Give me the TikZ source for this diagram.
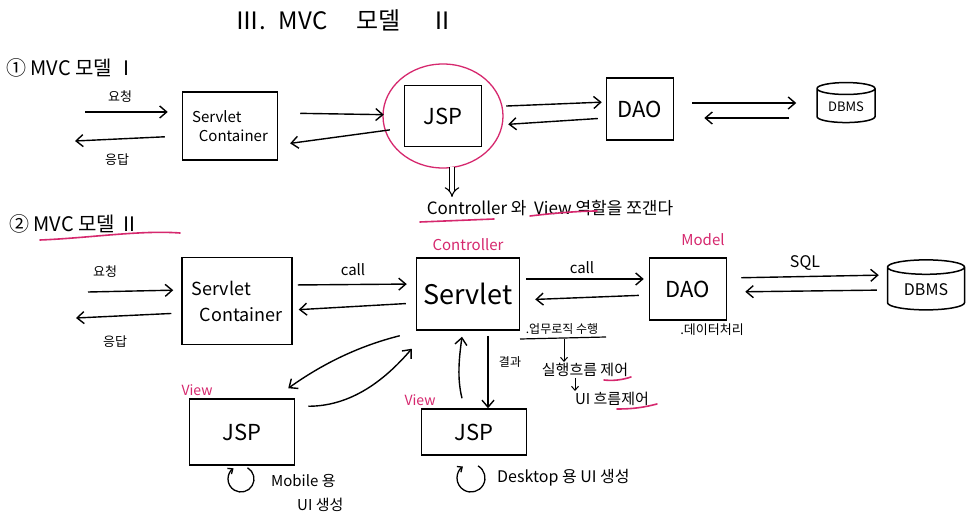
\documentclass[tikz,border=0pt]{standalone}
\usepackage{fontspec}
\setmainfont{Noto Sans CJK KR}
\usetikzlibrary{arrows.meta,shapes.geometric,calc}
\definecolor{hlpink}{RGB}{214,40,110}
\newcommand{\fs}[1]{\fontsize{#1}{#1}\selectfont}
\begin{document}
\begin{tikzpicture}[x=1pt,y=-1pt,
  box/.style={draw, line width=1.5pt, inner sep=2pt},
  db/.style={draw, line width=1.5pt, cylinder, shape border rotate=90, aspect=0.3, inner sep=2pt},
  arr/.style={line width=1.4pt, -{Straight Barb[length=7pt,width=12pt]}},
  txt/.style={inner sep=1pt},
  pk/.style={inner sep=1pt, text=hlpink},
  pline/.style={draw=hlpink, line width=1.6pt, line cap=round}]
\useasboundingbox[fill=white] (0,0) rectangle (979,521);

% Title and headers
\node[txt, font=\fs{24}] (title) at (345,20) {Ⅲ. \ MVC \quad 모델 \quad Ⅱ};
\node[txt, font=\fs{20}, anchor=west] (h1) at (5,68) {① MVC 모델 Ⅰ};
\node[txt, font=\fs{20}, anchor=west] (h2) at (8,224) {② MVC 모델 Ⅱ};
\draw[pline] (40,240) .. controls (90,238) and (140,230) .. (180,233);

% ---------------- Model 1 ----------------
\node[box, minimum width=95pt, minimum height=68pt, font=\fs{15}, align=left] (sc1) at (230,126) {Servlet\\[4pt]\ \ Container};
\node[box, minimum width=77pt, minimum height=61pt, font=\fs{22}] (jsp1) at (443,116) {JSP};
\node[box, minimum width=67pt, minimum height=62pt, font=\fs{22}] (dao1) at (640,109) {DAO};
\node[db, minimum width=58pt, minimum height=40pt, font=\fs{13}] (db1) at (846,107) {DBMS};
\draw[draw=hlpink, line width=1.3pt] (jsp1.center) ellipse [x radius=60, y radius=52];

\coordinate (in1) at (85,112);
\coordinate (out1) at (75,141);
\node[txt, font=\fs{13}] (req1) at (120,97) {요청};
\node[txt, font=\fs{13}] (res1) at (117,160) {응답};
\draw[arr, shorten >=14pt] (in1) -- (sc1.west |- in1);
\draw[arr, shorten <=17pt] (sc1.west |- 0,136) -- (out1);
\draw[arr, shorten <=22pt, shorten >=20pt] (sc1.east |- 0,113) -- (jsp1.west |- 0,115);
\draw[arr, shorten <=14pt, shorten >=12pt] (jsp1.west |- 0,128) -- (sc1.east |- 0,145);
\draw[arr, shorten <=24pt, shorten >=4pt] (jsp1.east |- 0,107) -- (dao1.west |- 0,102);
\draw[arr, shorten <=8pt, shorten >=26pt] (dao1.west |- 0,118) -- (jsp1.east |- 0,126);
\draw[arr, shorten <=18pt, shorten >=20pt] (dao1.east |- 0,103) -- (db1.west |- 0,103);
\draw[arr, shorten <=27pt, shorten >=30pt] (db1.west |- 0,118) -- (dao1.east |- 0,118);

% double arrow down
\coordinate (dd) at (452,197);
\draw[line width=1.1pt, double, double distance=4pt, -{Implies}] (jsp1.south -| dd) ++(0,20) -- (dd);
\node[txt, font=\fs{17}] (split) at (550,208) {Controller 와 \ View 역할을 쪼갠다};
\draw[pline] (420,222) -- (494,219);
\draw[pline] (530,216) .. controls (555,213) and (580,211) .. (597,211);

% ---------------- Model 2 ----------------
\node[box, minimum width=110pt, minimum height=87pt, font=\fs{18}, align=left] (sc2) at (237,301) {Servlet\\[8pt]\ \ Container};
\node[box, minimum width=103pt, minimum height=72pt, font=\fs{27}] (sv2) at (468,294) {Servlet};
\node[box, minimum width=77pt, minimum height=62pt, font=\fs{22}] (dao2) at (688,289) {DAO};
\node[db, minimum width=77pt, minimum height=50pt, font=\fs{16}] (db2) at (926,290) {DBMS};
\node[box, minimum width=105pt, minimum height=66pt, font=\fs{22}] (jspL) at (242,432) {JSP};
\node[box, minimum width=105pt, minimum height=46pt, font=\fs{22}] (jspR) at (474,432) {JSP};

\node[pk, font=\fs{15}] (lctl) at (468,245) {Controller};
\node[pk, font=\fs{15}] (lmod) at (703,240) {Model};
\node[pk, font=\fs{14}] (lv1) at (197,390) {View};
\node[pk, font=\fs{14}] (lv2) at (420,400) {View};

\coordinate (in2) at (88,292);
\coordinate (out2) at (76,318);
\node[txt, font=\fs{13}] (req2) at (105,272) {요청};
\node[txt, font=\fs{13}] (res2) at (115,342) {응답};
\draw[arr, shorten >=8pt] (in2) -- (sc2.west |- 0,290);
\draw[arr, shorten <=10pt] (sc2.west |- 0,313) -- (out2);

\node[txt, font=\fs{15}] (call1) at (353,270) {call};
\node[txt, font=\fs{15}] (call2) at (582,268) {call};
\node[txt, font=\fs{16}] (sql) at (805,263) {SQL};
\draw[arr, shorten <=5pt, shorten >=9pt] (sc2.east |- 0,285) -- (sv2.west |- 0,284);
\draw[arr, shorten <=10pt, shorten >=6pt] (sv2.west |- 0,303) -- (sc2.east |- 0,310);
\draw[arr, shorten <=6pt, shorten >=5pt] (sv2.east |- 0,279) -- (dao2.west |- 0,279);
\draw[arr, shorten <=10pt, shorten >=15pt] (dao2.west |- 0,295) -- (sv2.east |- 0,300);
\draw[arr, shorten <=14pt, shorten >=8pt] (dao2.east |- 0,278) -- (db2.west |- 0,275);
\draw[arr, shorten <=10pt, shorten >=18pt] (db2.west |- 0,290) -- (dao2.east |- 0,292);

\node[txt, font=\fs{13}] (ddata) at (712,330) {.데이터처리};
\node[txt, font=\fs{12}] (biz) at (562,329) {.업무로직 수행};
\draw[line width=1.2pt] (520,339) -- (606,337);
\node[txt, font=\fs{15}] (flow) at (585,370) {실행흐름 제어};
\node[txt, font=\fs{15}] (uictl) at (612,399) {UI 흐름제어};
\draw[arr, line width=1pt, -{Straight Barb[length=4pt,width=7pt]}] (biz.south) ++(2,3) -- (flow.north -| 564,0);
\draw[arr, line width=1pt, -{Straight Barb[length=4pt,width=7pt]}] (flow.south -| 575,0) -- (uictl.north -| 575,0);
\draw[pline] (604,380) .. controls (613,381) and (622,380) .. (631,377);
\draw[pline] (617,409) .. controls (635,409) and (645,407) .. (657,404);

% Servlet <-> left JSP
\draw[arr] ($(sv2.south west)+(-16,5)$) .. controls +(-40,10) and +(35,-25) .. ($(jspL.north east)+(-7,-10)$);
\draw[arr] ($(jspL.north east)+(13,8)$) .. controls +(40,0) and +(-30,35) .. ($(sv2.south west)+(-4,18)$);

% Servlet <-> right JSP
\draw[arr] (sv2.south -| 488,0) ++(0,5) -- (jspR.north -| 488,0);
\node[txt, font=\fs{12}] (res) at (510,362) {결과};
\draw[arr] ($(jspR.north)+(-12,-10)$) .. controls +(-5,-20) and +(-3,22) .. ($(sv2.south)+(-6,6)$);

% self-loops and captions
\coordinate (cl) at (241,479);
\coordinate (cr) at (471,478);
\draw[arr, line width=1.3pt, -{Straight Barb[length=4pt,width=7pt]}] (cl) ++(300:13) arc[start angle=-60, end angle=235, radius=13];
\draw[arr, line width=1.3pt, -{Straight Barb[length=4pt,width=7pt]}] (cr) ++(300:14) arc[start angle=-60, end angle=235, radius=14];
\node[txt, font=\fs{15}, anchor=west] (mob1) at (270,481) {Mobile 용};
\node[txt, font=\fs{15}, anchor=west] (mob2) at (296,505) {UI 생성};
\node[txt, font=\fs{16}, anchor=west] (desk) at (496,478) {Desktop 용 UI 생성};
\end{tikzpicture}
\end{document}
